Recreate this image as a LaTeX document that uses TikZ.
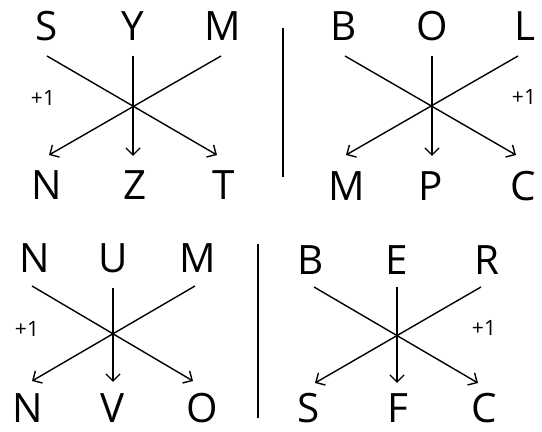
\documentclass[tikz,border=0pt]{standalone}
\usepackage{fontspec}
\setmainfont{Open Sans}
\usetikzlibrary{arrows.meta}
\usetikzlibrary{positioning}
\tikzset{
letter/.style={inner sep=0pt, font=\fontsize{23}{27}\selectfont},
bump/.style={inner sep=0pt, font=\fontsize{12}{14}\selectfont},
link/.style={-{Straight Barb[length=4pt, width=8pt]}, line width=0.8pt},
divider/.style={line width=0.9pt}
}

\begin{document}
\begin{tikzpicture}[x=0.02cm, y=-0.02cm]
    \useasboundingbox (0,0) rectangle (542,432);

    % top left: S Y M
    \node[letter] (top_1_l) at (47,26) {S};
    \node[letter] (top_1_m) at (133,26) {Y};
    \node[letter] (top_1_r) at (223,26) {M};
    \node[letter] (bot_1_l) at (47,185) {N};
    \node[letter] (bot_1_m) at (135,185) {Z};
    \node[letter] (bot_1_r) at (224,185) {T};
    \node[bump] (plus_1) at (43,98) {+1};
    \coordinate (a_1_l) at (47,56);
    \coordinate (a_1_m) at (133,56);
    \coordinate (a_1_r) at (221,56);
    \coordinate (b_1_l) at (49,155);
    \coordinate (b_1_m) at (133,156);
    \coordinate (b_1_r) at (217,155);
    \draw[link] (a_1_l) -- (b_1_r);
    \draw[link] (a_1_r) -- (b_1_l);
    \draw[link] (a_1_m) -- (b_1_m);

    % top right: B O L
    \node[letter] (top_2_l) at (344,26) {B};
    \node[letter] (top_2_m) at (432,26) {O};
    \node[letter] (top_2_r) at (525,26) {L};
    \node[letter] (bot_2_l) at (347,186) {M};
    \node[letter] (bot_2_m) at (431,186) {P};
    \node[letter] (bot_2_r) at (523,186) {C};
    \node[bump] (plus_2) at (524,97) {+1};
    \coordinate (a_2_l) at (345,56);
    \coordinate (a_2_m) at (432,56);
    \coordinate (a_2_r) at (518,56);
    \coordinate (b_2_l) at (346,155);
    \coordinate (b_2_m) at (432,156);
    \coordinate (b_2_r) at (516,155);
    \draw[link] (a_2_l) -- (b_2_r);
    \draw[link] (a_2_r) -- (b_2_l);
    \draw[link] (a_2_m) -- (b_2_m);

    % bottom left: N U M
    \node[letter] (top_3_l) at (35,258) {N};
    \node[letter] (top_3_m) at (113,258) {U};
    \node[letter] (top_3_r) at (198,258) {M};
    \node[letter] (bot_3_l) at (28,408) {N};
    \node[letter] (bot_3_m) at (113,408) {V};
    \node[letter] (bot_3_r) at (202,408) {O};
    \node[bump] (plus_3) at (27,329) {+1};
    \coordinate (a_3_l) at (32,286);
    \coordinate (a_3_m) at (113,288);
    \coordinate (a_3_r) at (195,286);
    \coordinate (b_3_l) at (32,381);
    \coordinate (b_3_m) at (113,382);
    \coordinate (b_3_r) at (193,381);
    \draw[link] (a_3_l) -- (b_3_r);
    \draw[link] (a_3_r) -- (b_3_l);
    \draw[link] (a_3_m) -- (b_3_m);

    % bottom right: B E R
    \node[letter] (top_4_l) at (311,260) {B};
    \node[letter] (top_4_m) at (397,260) {E};
    \node[letter] (top_4_r) at (487,260) {R};
    \node[letter] (bot_4_l) at (309,408) {S};
    \node[letter] (bot_4_m) at (398,408) {F};
    \node[letter] (bot_4_r) at (484,408) {C};
    \node[bump] (plus_4) at (484,328) {+1};
    \coordinate (a_4_l) at (314,287);
    \coordinate (a_4_m) at (397,287);
    \coordinate (a_4_r) at (481,287);
    \coordinate (b_4_l) at (315,383);
    \coordinate (b_4_m) at (397,383);
    \coordinate (b_4_r) at (478,383);
    \draw[link] (a_4_l) -- (b_4_r);
    \draw[link] (a_4_r) -- (b_4_l);
    \draw[link] (a_4_m) -- (b_4_m);

    % dividers
    \coordinate (d_1_top) at (283,28);
    \coordinate (d_1_bot) at (283,177);
    \coordinate (d_2_top) at (258,244);
    \coordinate (d_2_bot) at (258,418);
    \draw[divider] (d_1_top) -- (d_1_bot);
    \draw[divider] (d_2_top) -- (d_2_bot);
\end{tikzpicture}
\end{document}
